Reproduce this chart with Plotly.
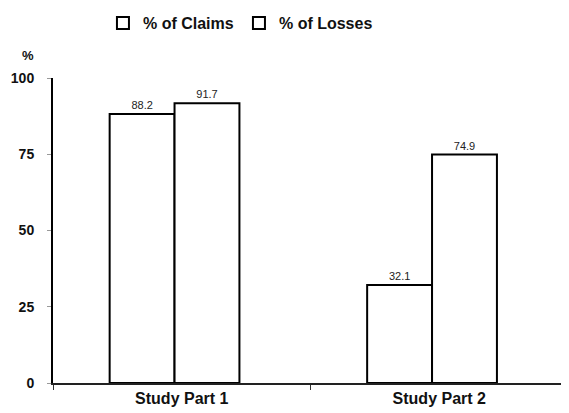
import plotly.graph_objects as go

categories = ["Study Part 1", "Study Part 2"]
claims = [88.2, 32.1]
losses = [91.7, 74.9]
claims_labels = ["88.2", "32.1"]
losses_labels = ["91.7", "74.9"]
y_ticks = [0, 25, 50, 75, 100]

FONT = "Liberation Sans"
fig = go.Figure()
common = dict(marker=dict(color="white", line=dict(color="black", width=2)),
              textposition="outside",
              textfont=dict(size=11, color="#222", family=FONT),
              cliponaxis=False, width=0.252)
fig.add_trace(go.Bar(x=categories, y=claims, name="% of Claims", text=claims_labels,
                     offset=-0.28, **common))
fig.add_trace(go.Bar(x=categories, y=losses, name="% of Losses", text=losses_labels,
                     offset=-0.028, **common))

# The page body adds an 8px offset, so the figure is sized to fill the rest of the window.
fig.update_layout(
    width=561, height=405,
    margin=dict(l=45, r=1, t=70, b=30, autoexpand=False),
    paper_bgcolor="white", plot_bgcolor="white",
    barmode="overlay",
    font=dict(family=FONT, color="#111", size=14),
    showlegend=True,
    legend=dict(orientation="h", x=0.097, y=1.18, xanchor="left", yanchor="middle",
                font=dict(size=16, family=FONT, weight="bold"),
                entrywidth=91, entrywidthmode="pixels", traceorder="normal"),
)
fig.update_xaxes(showline=True, linecolor="#222", linewidth=1.5, ticks="outside",
                 tickson="boundaries", ticklen=5, tickcolor="#333", showgrid=False,
                 tickfont=dict(size=16, weight="bold"), range=[-0.5, 1.5])
fig.update_yaxes(range=[0, 100], tickvals=y_ticks, showline=True, linecolor="black",
                 linewidth=2, ticks="outside", ticklen=4, tickcolor="#999", showgrid=False,
                 zeroline=False, tickfont=dict(size=14, weight="bold"), ticklabelstandoff=10)
fig.add_annotation(text="<b>%</b>", xref="paper", yref="paper", x=-0.048, y=1.0, yshift=13,
                   showarrow=False, font=dict(size=13), xanchor="center", yanchor="bottom")
fig.write_html("out.html")
